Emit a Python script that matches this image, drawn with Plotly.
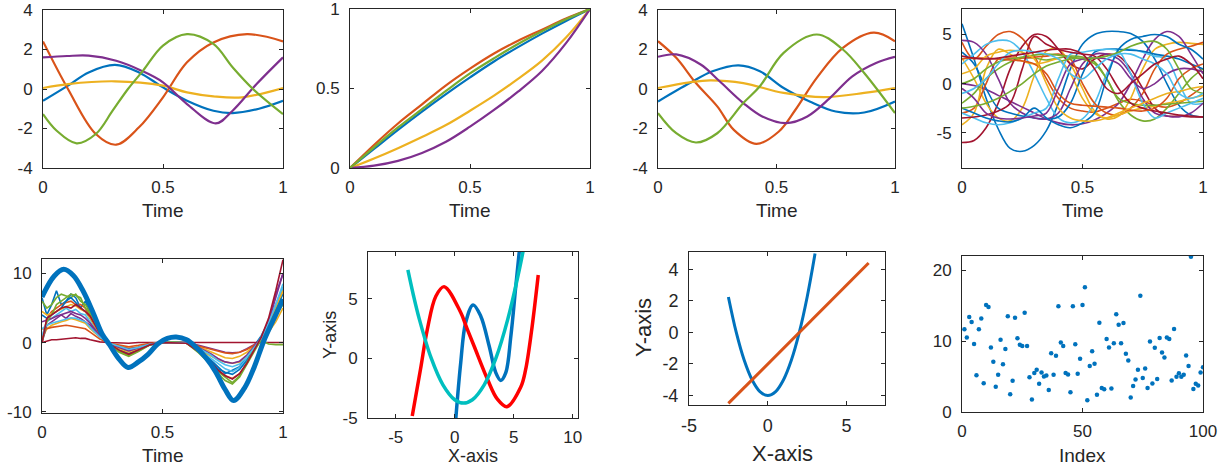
import plotly.graph_objects as go

W, H = 1221, 470
C = ['#0072BD', '#D95319', '#EDB120', '#7E2F8E', '#77AC30', '#4DBEEE', '#A2142F']
FONT = 'Liberation Sans, Arial, Helvetica, sans-serif'
TXT = '#262626'

# ---------------- Panel 1 ----------------
p1_blue_x = [0, 0.104, 0.19, 0.3, 0.4, 0.5, 0.6, 0.71, 0.79, 0.9, 1.0]
p1_blue_y = [-0.6, 0.17, 0.84, 1.22, 0.84, 0.08, -0.59, -1.1, -1.22, -1.0, -0.6]
p1_orange_x = [0, 0.104, 0.22, 0.305, 0.4, 0.5, 0.6, 0.71, 0.85, 1.0]
p1_orange_y = [2.41, 0.0, -2.28, -2.82, -1.94, -0.42, 1.35, 2.36, 2.78, 2.41]
p1_yellow_x = [0, 0.104, 0.3, 0.5, 0.6, 0.71, 0.83, 1.0]
p1_yellow_y = [0.05, 0.25, 0.39, 0.17, -0.17, -0.37, -0.42, 0.05]
p1_purple_x = [0, 0.1, 0.19, 0.305, 0.41, 0.5, 0.6, 0.72, 0.79, 0.89, 1.0]
p1_purple_y = [1.6, 1.67, 1.69, 1.43, 0.93, 0.34, -0.76, -1.74, -1.1, 0.25, 1.6]
p1_green_x = [0, 0.056, 0.14, 0.22, 0.29, 0.354, 0.417, 0.5, 0.6, 0.71, 0.79, 0.875, 1.0]
p1_green_y = [-1.27, -2.1, -2.75, -2.28, -1.1, 0.0, 0.93, 2.2, 2.78, 2.28, 1.1, 0.0, -1.27]

# ---------------- Panel 2 ----------------
p2_x = [0, 0.1, 0.2, 0.3, 0.4, 0.5, 0.6, 0.7, 0.8, 0.9, 1.0]
p2_blue = [0, 0.12, 0.24, 0.355, 0.465, 0.57, 0.67, 0.76, 0.845, 0.925, 1.0]
p2_orange = [0, 0.145, 0.28, 0.40, 0.52, 0.625, 0.72, 0.80, 0.87, 0.94, 1.0]
p2_yellow = [0, 0.06, 0.125, 0.195, 0.27, 0.36, 0.455, 0.56, 0.675, 0.82, 1.0]
p2_purple = [0, 0.015, 0.045, 0.095, 0.165, 0.26, 0.365, 0.48, 0.61, 0.785, 1.0]
p2_green = [0, 0.13, 0.255, 0.37, 0.485, 0.595, 0.69, 0.78, 0.86, 0.935, 1.0]

# ---------------- Panel 3 ----------------
p3_blue_x = [0, 0.134, 0.23, 0.34, 0.43, 0.53, 0.64, 0.75, 0.87, 1.0]
p3_blue_y = [-0.63, 0.3, 0.9, 1.2, 0.9, 0.05, -0.63, -1.14, -1.19, -0.63]
p3_orange_x = [0, 0.077, 0.16, 0.25, 0.32, 0.415, 0.51, 0.58, 0.67, 0.78, 0.91, 1.0]
p3_orange_y = [2.42, 1.58, 0.3, -0.88, -2.07, -2.78, -2.15, -1.05, 0.56, 2.08, 2.85, 2.42]
p3_yellow_x = [0, 0.134, 0.22, 0.36, 0.53, 0.7, 0.87, 1.0]
p3_yellow_y = [0.05, 0.34, 0.44, 0.3, -0.2, -0.41, -0.2, 0.05]
p3_purple_x = [0, 0.077, 0.18, 0.26, 0.36, 0.44, 0.54, 0.63, 0.725, 0.82, 0.92, 1.0]
p3_purple_y = [1.63, 1.75, 1.24, 0.39, -0.71, -1.39, -1.73, -1.39, -0.46, 0.64, 1.32, 1.63]
p3_green_x = [0, 0.077, 0.16, 0.25, 0.36, 0.43, 0.53, 0.67, 0.78, 0.87, 1.0]
p3_green_y = [-1.22, -2.24, -2.71, -2.24, -0.71, 0.14, 1.83, 2.76, 2.0, 0.81, -1.22]

# ---------------- Panel 4 ----------------
p4_x = [0, 0.05, 0.1, 0.15, 0.2, 0.25, 0.3, 0.35, 0.4, 0.45, 0.5,
        0.55, 0.6, 0.65, 0.7, 0.75, 0.8, 0.85, 0.9, 0.95, 1.0]
p4_curves = [
    [6.1, 2.5, -1.5, -4.6, -6.6, -6.9, -6.3, -4.8, -2.0, 1.5, 4.0, 5.0, 5.3, 5.3, 5.1, 4.3, 2.5, 0.0, -2.2, -3.2, -3.4],
    [4.2, 2.5, 3.8, 5.0, 5.3, 4.6, 2.8, 0.5, -1.5, -2.5, -2.8, -2.9, -2.5, -2.0, -1.6, -1.8, -2.2, -2.4, -2.0, -1.2, -0.3],
    [2.6, 0.5, -2.0, -3.5, -3.8, -2.5, 0.8, 3.3, 3.5, 2.0, -0.5, -2.8, -3.6, -3.3, -1.5, 1.5, 3.5, 4.0, 4.2, 4.1, 4.0],
    [0.0, -0.2, -0.6, -1.2, -1.8, -2.4, -3.0, -3.6, -4.0, -4.2, -4.1, -3.7, -3.0, -2.0, 0.0, 2.5, 4.5, 5.3, 4.8, 3.0, 1.0],
    [-2.0, -1.0, 0.5, 1.5, 2.2, 2.6, 2.6, 2.4, 2.6, 2.8, 2.7, 2.2, 0.5, -1.8, -3.2, -3.8, -3.6, -2.5, -1.0, 0.5, 1.5],
    [2.0, 3.0, 4.0, 4.4, 4.3, 3.2, 1.0, -1.5, -3.5, -4.0, -3.6, -2.0, 1.0, 3.2, 3.5, 3.2, 2.8, 2.5, 0.0, -2.0, -2.0],
    [-6.0, -5.8, -4.5, -2.0, 1.5, 3.8, 5.0, 4.8, 3.5, 2.0, 1.5, 2.5, 3.0, 2.8, 1.5, -0.5, -2.5, -3.3, -3.3, -3.4, -3.4],
    [3.2, 2.0, -0.5, -2.5, -3.0, -3.3, -3.5, -3.6, -3.4, -2.0, 1.0, 3.2, 3.5, 3.5, 3.4, 3.3, 3.0, 2.8, 2.5, 2.0, 1.5],
    [-3.0, -2.5, 0.0, 2.5, 2.6, 2.6, 2.7, 2.8, 3.0, 2.5, 0.0, -2.0, -3.0, -3.2, -2.5, -1.0, 1.5, 3.0, 3.5, 3.8, 4.2],
    [-4.2, -3.0, 1.5, 3.5, 3.0, 2.3, 2.0, 2.2, 2.5, 1.0, -1.5, -3.0, -3.5, -3.2, -2.8, -2.5, -2.3, -2.0, -1.8, -1.5, -1.2],
    [4.4, 4.2, 3.0, 0.5, -2.0, -3.0, -3.5, -3.6, -3.0, -0.5, 2.0, 3.0, 3.0, 2.5, 1.0, -1.5, -3.0, -3.3, -3.4, -3.0, -2.0],
    [0.0, 0.5, 1.5, 2.2, 2.5, 2.7, 2.9, 3.0, 2.9, 2.7, 2.5, 2.0, 0.5, -1.5, -2.0, -2.2, -2.2, -2.1, -2.0, -1.9, -1.8],
    [-3.0, -3.5, -4.0, -4.2, -4.0, -3.5, -3.0, -2.5, 0.5, 3.0, 3.2, 3.4, 3.5, 3.3, 1.0, -2.0, -3.5, -3.0, -2.5, -2.0, -1.5],
    [-3.5, -3.4, -3.2, -2.8, -2.0, 1.5, 4.8, 4.0, 3.5, 3.2, 3.0, 2.8, 1.5, -0.5, -2.0, -2.5, -2.8, -3.0, -3.2, -3.3, -3.4],
    [-2.5, -3.0, -3.5, -3.8, -3.9, -3.5, -2.5, -3.5, -4.2, -4.5, -4.0, -3.0, 0.5, 3.5, 4.5, 4.8, 5.0, 4.8, 4.0, 3.5, 2.5],
    [2.5, 2.6, 2.6, 2.5, 2.4, 2.3, 2.0, 1.0, -1.0, -2.0, -2.2, -2.3, -2.4, -2.5, -2.7, -2.8, -2.5, -1.5, 0.5, 1.5, 2.0],
    [1.0, 1.5, 2.8, 3.2, 3.4, 3.2, 2.5, 0.0, -2.5, -3.5, -3.8, -3.8, -3.5, -3.0, -2.5, -2.0, -1.5, -1.0, -0.8, -0.5, -0.3],
    [-0.5, -1.5, -3.0, -3.5, -3.6, -3.5, -3.3, -3.0, -0.5, 2.0, 2.5, 2.6, 2.5, 2.0, 0.5, -0.5, 0.0, 1.0, 1.5, 1.5, 1.2],
    [-2.5, -2.3, -2.0, -1.5, -0.8, 0.0, 1.0, 1.8, 2.2, 2.5, 2.6, 2.6, 2.8, 3.2, 3.8, 4.2, 4.3, 3.5, 1.5, -0.5, -1.0],
    [-1.0, -0.5, 0.5, 2.0, 3.2, 3.4, 3.2, 3.0, 2.5, 1.0, 0.5, 1.5, 2.5, 3.0, 3.0, 2.5, 2.0, 1.0, -1.0, -1.5, -1.0],
    [2.8, 2.6, 2.5, 2.6, 2.8, 3.0, 3.2, 3.4, 3.5, 3.5, 3.0, 1.5, -0.5, -1.0, 0.0, 1.0, 2.0, 2.5, 2.8, 2.0, 0.5],
]

# ---------------- Panel 5 ----------------
p5_x = [0, 0.02, 0.04, 0.06, 0.08, 0.1, 0.12, 0.14, 0.16, 0.18, 0.2, 0.24, 0.28, 0.32, 0.36, 0.4,
        0.45, 0.5, 0.55, 0.6, 0.65, 0.7, 0.73, 0.76, 0.79, 0.82, 0.85, 0.88, 0.91, 0.94, 0.97, 1.0]
p5_thin = [
    [6.5, 4.0, 5.5, 7.5, 5.5, 6.0, 7.0, 6.5, 5.0, 6.0, 4.0, 1.5, -0.2, -1.0, -1.5, -1.0, -0.3, 0.0, 0.1, 0.0, -1.0, -2.5, -3.5, -4.5, -4.0, -3.5, -2.0, -0.5, 1.0, 3.0, 5.5, 8.0],
    [0.0, 3.5, 4.5, 5.0, 5.5, 5.8, 6.0, 5.5, 5.5, 5.0, 3.8, 1.2, -0.3, -1.2, -1.8, -1.0, -0.2, 0.0, 0.0, -0.1, -1.2, -2.8, -4.0, -4.8, -5.2, -4.5, -3.0, -1.0, 0.5, 2.5, 5.0, 7.5],
    [0.5, 2.0, 2.5, 2.8, 3.0, 3.2, 3.5, 3.3, 3.0, 2.8, 2.0, 0.8, -0.1, -0.5, -0.8, -0.6, -0.2, 0.0, 0.0, 0.0, -0.6, -1.3, -1.8, -2.2, -2.3, -2.0, -1.4, -0.5, 0.3, 1.5, 3.0, 5.0],
    [0.0, 2.5, 3.0, 3.5, 4.0, 3.5, 4.2, 3.8, 3.5, 3.0, 2.5, 0.9, -0.1, -0.6, -0.9, -0.7, -0.2, 0.0, 0.0, 0.0, -0.4, -0.9, -1.2, -1.4, -1.5, -1.4, -0.9, -0.3, 0.5, 3.0, 7.0, 10.0],
    [6.0, 5.0, 5.5, 6.5, 7.0, 6.8, 6.5, 7.0, 6.0, 5.5, 4.5, 1.5, -0.3, -1.4, -2.0, -1.3, -0.3, 0.0, 0.1, -0.1, -1.5, -3.2, -4.5, -5.5, -6.0, -5.0, -3.2, -1.2, 0.5, 2.0, 4.0, 5.5],
    [1.0, 3.0, 3.5, 4.0, 4.5, 5.0, 4.5, 4.8, 4.2, 4.0, 3.0, 1.0, -0.2, -0.9, -1.4, -0.9, -0.2, 0.0, 0.0, 0.0, -1.0, -2.2, -3.0, -3.8, -4.2, -3.6, -2.4, -0.8, 0.8, 3.0, 5.5, 8.0],
    [0.0, 0.2, 0.4, 0.4, 0.5, 0.5, 0.6, 0.7, 0.6, 0.6, 0.4, 0.1, 0.0, -0.1, -0.1, 0.0, 0.0, 0.0, 0.0, 0.0, 0.0, 0.0, 0.0, 0.0, 0.0, 0.0, 0.0, 0.0, 0.0, 0.0, 0.0, 0.0],
    [4.0, 3.5, 4.0, 4.5, 5.0, 6.0, 6.5, 5.8, 5.0, 4.5, 3.5, 1.2, -0.2, -1.0, -1.6, -1.0, -0.3, 0.0, 0.0, -0.1, -1.2, -2.6, -3.8, -4.3, -4.6, -3.9, -2.6, -0.9, 0.7, 2.8, 5.0, 7.0],
    [2.0, 2.0, 2.2, 2.3, 2.5, 2.5, 2.4, 2.3, 2.2, 2.0, 1.5, 0.5, -0.1, -0.4, -0.6, -0.4, -0.1, 0.0, 0.0, 0.0, -0.5, -1.0, -1.3, -1.5, -1.6, -1.4, -1.0, -0.4, 0.2, 1.5, 3.5, 6.0],
    [4.5, 4.0, 4.2, 4.5, 4.8, 5.2, 5.5, 5.3, 4.8, 4.5, 3.5, 1.2, -0.2, -0.9, -1.4, -0.9, -0.2, 0.0, 0.0, 0.0, -1.0, -2.0, -2.5, -2.8, -3.0, -2.8, -2.0, -0.8, 0.5, 2.5, 5.0, 7.5],
    [3.0, 3.2, 3.5, 3.8, 4.0, 4.3, 4.5, 4.2, 4.0, 3.5, 2.8, 1.0, -0.1, -0.7, -1.2, -0.8, -0.2, 0.0, 0.0, 0.0, -0.7, -1.6, -2.3, -2.8, -3.0, -2.7, -1.8, -0.6, 0.6, 3.0, 6.5, 10.0],
    [0.0, 3.0, 4.0, 5.5, 6.0, 6.5, 7.0, 6.8, 6.5, 5.0, 4.2, 1.4, -0.3, -1.3, -1.9, -1.2, -0.3, 0.0, 0.1, -0.1, -1.4, -3.0, -4.2, -5.0, -5.8, -4.8, -3.0, -1.0, 0.3, -0.2, -0.3, -0.3],
    [2.0, 2.5, 2.8, 3.0, 3.3, 3.5, 3.6, 3.5, 3.2, 3.0, 2.2, 0.8, -0.1, -0.6, -1.0, -0.7, -0.2, 0.0, 0.0, 0.0, -0.8, -1.8, -2.6, -3.2, -3.5, -3.1, -2.1, -0.7, 0.6, 2.8, 5.5, 8.5],
    [0.0, 3.5, 4.0, 4.5, 5.0, 5.2, 5.0, 5.5, 5.0, 4.5, 3.8, 1.3, -0.2, -1.1, -1.7, -1.1, -0.3, 0.0, 0.0, -0.1, -1.3, -2.8, -4.0, -4.8, -5.3, -4.5, -3.0, -1.0, 0.8, 3.5, 7.5, 12.0],
]
p5_thick_x = [0, 0.05, 0.09, 0.13, 0.17, 0.21, 0.25, 0.28, 0.32, 0.357, 0.40, 0.44, 0.48,
              0.52, 0.557, 0.60, 0.64, 0.68, 0.72, 0.76, 0.795, 0.84, 0.88, 0.92, 0.96, 1.0]
p5_thick_y = [6.6, 9.6, 10.6, 9.7, 7.5, 4.5, 1.2, -0.3, -2.4, -3.6, -2.8, -1.7, -0.2,
              0.6, 0.8, 0.4, -0.7, -2.2, -4.2, -6.8, -8.4, -6.6, -3.6, 0.2, 3.3, 6.3]

# ---------------- Panel 6 ----------------
p6_red_x = [-3.6, -2.9, -2.32, -1.6, -0.9, 0.51, 1.0, 1.64, 2.78, 3.6, 4.42, 5.6, 6.0, 6.5, 7.08]
p6_red_y = [-4.83, -0.92, 2.43, 5.2, 6.0, 3.83, 2.6, 1.03, -1.76, -3.4, -4.05, -2.4, -1.0, 2.2, 6.98]
p6_blue_x = [0.08, 0.51, 0.93, 1.56, 2.2, 2.92, 3.48, 3.9, 4.33, 4.76, 5.18, 5.5]
p6_blue_y = [-5.2, -0.36, 3.0, 4.47, 3.55, 1.03, -1.2, -1.85, -1.2, 1.87, 6.06, 9.2]
p6_cyan_x = [-3.97, -3.5, -3.0, -2.0, -1.0, 0.0, 0.75, 1.5, 2.5, 3.5, 4.5, 5.5, 6.0]
p6_cyan_y = [7.4, 5.28, 3.28, 0.03, -2.22, -3.47, -3.75, -3.47, -2.22, 0.03, 3.28, 7.53, 10.03]

# ---------------- Panel 7 ----------------
p7_curve_x = [-2.5, -2.0, -1.5, -1.0, -0.5, 0.0, 0.5, 1.0, 1.5, 2.0, 2.5, 3.0]
p7_curve_y = [2.25, 0.0, -1.75, -3.0, -3.75, -4.0, -3.75, -3.0, -1.75, 0.0, 2.25, 5.0]
p7_line_x = [-2.5, 6.4]
p7_line_y = [-4.5, 4.4]

# ---------------- Panel 8 ----------------
p8_y = [11.66, 10.5, 13.4, 12.7, 9.6, 5.2, 11.66, 13.2, 4.07, 15.1,
        14.8, 9.1, 7.1, 3.56, 5.25, 10.2, 6.75, 8.9, 13.5, 2.5,
        4.4, 13.3, 10.4, 9.5, 9.3, 14.0, 9.3, 4.9, 1.78, 5.5,
        5.95, 4.0, 5.57, 5.0, 5.15, 3.1, 8.3, 5.25, 7.95, 14.9,
        9.8, 9.3, 5.5, 5.3, 2.8, 14.9, 9.55, 5.4, 7.5, 15.1,
        17.6, 1.64, 6.5, 8.55, 6.8, 2.44, 12.6, 3.37, 3.2, 10.3,
        9.1, 3.3, 9.7, 13.8, 12.3, 9.7, 12.55, 8.2, 7.26, 2.06,
        3.65, 4.6, 5.95, 16.4, 4.8, 6.13, 3.4, 9.93, 4.03, 9.05,
        4.64, 10.45, 8.4, 7.7, 10.5, 10.3, 4.45, 11.7, 4.96, 5.48,
        4.96, 5.25, 7.96, 6.5, 21.9, 3.23, 4.0, 3.75, 5.57, 6.32]
p8_x = list(range(1, len(p8_y) + 1))

# ---------------- Layout helpers ----------------
def px_x(a, b):
    return [a / W, b / W]

def px_y(top, bottom):
    return [1 - bottom / H, 1 - top / H]

panels = {
    1: dict(xd=px_x(43, 283), yd=px_y(10, 168), xr=[0, 1], yr=[-4, 4],
            xt=[0, 0.5, 1], xtt=['0', '0.5', '1'], yt=[-4, -2, 0, 2, 4], ytt=['-4', '-2', '0', '2', '4']),
    2: dict(xd=px_x(350, 590), yd=px_y(9, 168), xr=[0, 1], yr=[0, 1],
            xt=[0, 0.5, 1], xtt=['0', '0.5', '1'], yt=[0, 0.5, 1], ytt=['0', '0.5', '1']),
    3: dict(xd=px_x(658, 895), yd=px_y(10, 168), xr=[0, 1], yr=[-4, 4],
            xt=[0, 0.5, 1], xtt=['0', '0.5', '1'], yt=[-4, -2, 0, 2, 4], ytt=['-4', '-2', '0', '2', '4']),
    4: dict(xd=px_x(962, 1203), yd=px_y(9, 168), xr=[0, 1], yr=[-8.6, 7.6],
            xt=[0, 0.5, 1], xtt=['0', '0.5', '1'], yt=[-5, 0, 5], ytt=['-5', '0', '5']),
    5: dict(xd=px_x(42, 283), yd=px_y(259, 413), xr=[0, 1], yr=[-10.2, 12.1],
            xt=[0, 0.5, 1], xtt=['0', '0.5', '1'], yt=[-10, 0, 10], ytt=['-10', '0', '10']),
    6: dict(xd=px_x(368, 578), yd=px_y(252, 418), xr=[-7.35, 10.45], yr=[-5, 8.9],
            xt=[-5, 0, 5, 10], xtt=['-5', '0', '5', '10'], yt=[-5, 0, 5], ytt=['-5', '0', '5']),
    7: dict(xd=px_x(689, 885), yd=px_y(252, 405), xr=[-5, 7.44], yr=[-4.6, 5.1],
            xt=[-5, 0, 5], xtt=['-5', '0', '5'], yt=[-4, -2, 0, 2, 4], ytt=['-4', '-2', '0', '2', '4'], fs=18),
    8: dict(xd=px_x(962, 1203), yd=px_y(256, 412), xr=[0, 100], yr=[0, 22],
            xt=[0, 50, 100], xtt=['0', '50', '100'], yt=[0, 10, 20], ytt=['0', '10', '20']),
}

layout = dict(
    width=W, height=H, autosize=False, margin=dict(l=0, r=0, t=0, b=0, pad=0, autoexpand=False),
    paper_bgcolor='white', plot_bgcolor='white', showlegend=False,
    font=dict(family=FONT, color=TXT),
)

for i, p in panels.items():
    s = '' if i == 1 else str(i)
    fs = p.get('fs', 17)
    common = dict(showline=True, linecolor=TXT, linewidth=1, mirror='ticks',
                  ticks='inside', ticklen=4, tickwidth=1, tickcolor=TXT,
                  showgrid=False, zeroline=False, fixedrange=True, automargin=False,
                  ticklabeloverflow='allow',
                  tickfont=dict(family=FONT, size=fs, color=TXT))
    layout['xaxis' + s] = dict(domain=p['xd'], range=p['xr'], anchor='y' + s,
                               tickmode='array', tickvals=p['xt'], ticktext=p['xtt'],
                               ticklabelstandoff=4, **common)
    layout['yaxis' + s] = dict(domain=p['yd'], range=p['yr'], anchor='x' + s,
                               tickmode='array', tickvals=p['yt'], ticktext=p['ytt'],
                               ticklabelstandoff=6, **common)

fig = go.Figure(layout=layout)

def line(x, y, color, width, ax, shape='spline'):
    s = '' if ax == 1 else str(ax)
    fig.add_trace(go.Scatter(x=x, y=y, mode='lines', hoverinfo='skip',
                             line=dict(color=color, width=width, shape=shape),
                             xaxis='x' + s, yaxis='y' + s))

# Panel 1
line(p1_blue_x, p1_blue_y, C[0], 2.2, 1)
line(p1_orange_x, p1_orange_y, C[1], 2.2, 1)
line(p1_yellow_x, p1_yellow_y, C[2], 2.2, 1)
line(p1_purple_x, p1_purple_y, C[3], 2.2, 1)
line(p1_green_x, p1_green_y, C[4], 2.2, 1)
# Panel 2
for k, yy in enumerate([p2_blue, p2_orange, p2_yellow, p2_purple, p2_green]):
    line(p2_x, yy, C[k], 2.2, 2)
# Panel 3
line(p3_blue_x, p3_blue_y, C[0], 2.2, 3)
line(p3_orange_x, p3_orange_y, C[1], 2.2, 3)
line(p3_yellow_x, p3_yellow_y, C[2], 2.2, 3)
line(p3_purple_x, p3_purple_y, C[3], 2.2, 3)
line(p3_green_x, p3_green_y, C[4], 2.2, 3)
# Panel 4
for k, yy in enumerate(p4_curves):
    line(p4_x, yy, C[k % 7], 1.6, 4)
# Panel 5
for k, yy in enumerate(p5_thin):
    line(p5_x, yy, C[k % 7], 1.6, 5, shape='linear')
line(p5_thick_x, p5_thick_y, C[0], 5, 5)
# Panel 6
line(p6_blue_x, p6_blue_y, C[0], 3.5, 6)
line(p6_red_x, p6_red_y, '#FF0000', 3.5, 6)
line(p6_cyan_x, p6_cyan_y, '#00BFBF', 3.5, 6)
# Panel 7
line(p7_curve_x, p7_curve_y, C[0], 3, 7)
line(p7_line_x, p7_line_y, C[1], 3, 7, shape='linear')
# Panel 8
fig.add_trace(go.Scatter(x=p8_x, y=p8_y, mode='markers', hoverinfo='skip',
                         marker=dict(color=C[0], size=4.5, line=dict(width=0)),
                         xaxis='x8', yaxis='y8'))

# Axis labels as annotations (pixel positions)
def label(text, cx, cy, size, angle=0):
    fig.add_annotation(text=text, xref='paper', yref='paper', x=cx / W, y=1 - cy / H,
                       xanchor='center', yanchor='middle', showarrow=False, textangle=angle,
                       font=dict(family=FONT, size=size, color=TXT))

label('Time', 163, 210, 19)
label('Time', 470, 210, 19)
label('Time', 776.5, 210, 19)
label('Time', 1082.5, 210, 19)
label('Time', 162.5, 455, 19)
label('X-axis', 473, 456, 18)
label('Y-axis', 330, 335, 18, angle=-90)
label('X-axis', 782.5, 453, 22)
label('Y-axis', 643, 328, 22, angle=-90)
label('Index', 1082.5, 455, 19)

fig.write_html('out.html')
